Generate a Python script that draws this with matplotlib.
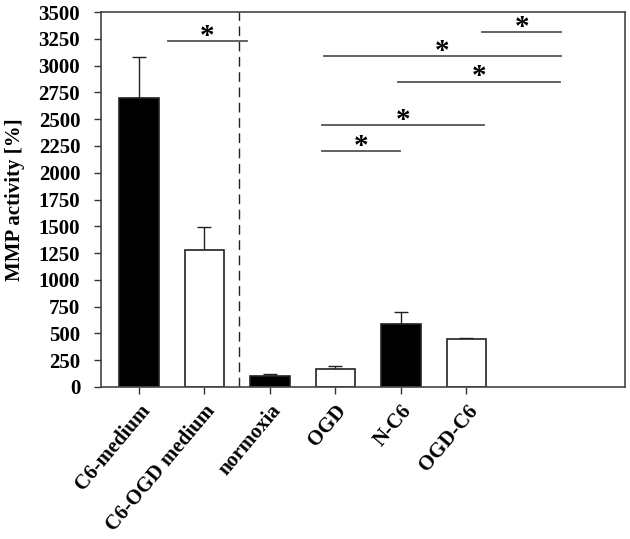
import numpy as np
import matplotlib.pyplot as plt

plt.rcParams['font.family'] = 'Liberation Serif'
plt.rcParams['font.weight'] = 'bold'

categories = ['C6-medium', 'C6-OGD medium', 'normoxia', 'OGD', 'N-C6', 'OGD-C6']
values = [2700, 1275, 100, 165, 590, 450]
errors = [380, 215, 20, 30, 110, 10]
colors = ['black', 'white', 'black', 'white', 'black', 'white']

# significance brackets: (x start, x end, height)
sig_x0 = [0.44, 5.24, 2.82, 3.95, 2.79, 2.79]
sig_x1 = [1.65, 6.45, 6.45, 6.43, 5.26, 3.99]
sig_y = [3230, 3310, 3085, 2850, 2445, 2205]

fig = plt.figure(figsize=(6.3, 5.39), dpi=100)
ax = fig.add_axes([101/630, 1 - 387/539, 524/630, 375/539])

x = np.arange(len(categories))
ax.bar(x, values, width=0.61, color=colors, edgecolor='#222222', linewidth=1.2, zorder=2)
ax.errorbar(x, values, yerr=[np.zeros(len(errors)), errors], fmt='none',
            ecolor='#222222', elinewidth=1, capsize=5, capthick=1, zorder=1)

ax.axvline(1.52, color='#222222', linestyle=(0, (7, 4)), linewidth=1)

for x0, x1, y in zip(sig_x0, sig_x1, sig_y):
    ax.plot([x0, x1], [y, y], color='#555555', linewidth=1.3)
    ax.annotate('*', xy=((x0 + x1) / 2, y), xytext=(0, -2), textcoords='offset points',
                ha='center', va='baseline', fontsize=21, fontweight='bold')

ax.set_xlim(-0.58, 7.42)
ax.set_ylim(0, 3500)
ax.set_yticks(np.arange(0, 3501, 250))
ax.set_yticklabels([str(v) for v in range(0, 3501, 250)], fontsize=15, fontweight='bold')
ax.set_xticks(x)
ax.set_xticklabels(categories, rotation=50, ha='right', rotation_mode='anchor',
                   fontsize=15, fontweight='bold')
ax.tick_params(axis='both', direction='out', length=5, color='#333333', width=1)
ax.tick_params(axis='y', pad=10)
ax.tick_params(axis='x', pad=5)
for s in ax.spines.values():
    s.set_color('#444444')
    s.set_linewidth(1.2)

ax.set_ylabel('MMP activity [%]', fontsize=15, fontweight='bold', labelpad=10)

fig.savefig('out.png', dpi=100)
